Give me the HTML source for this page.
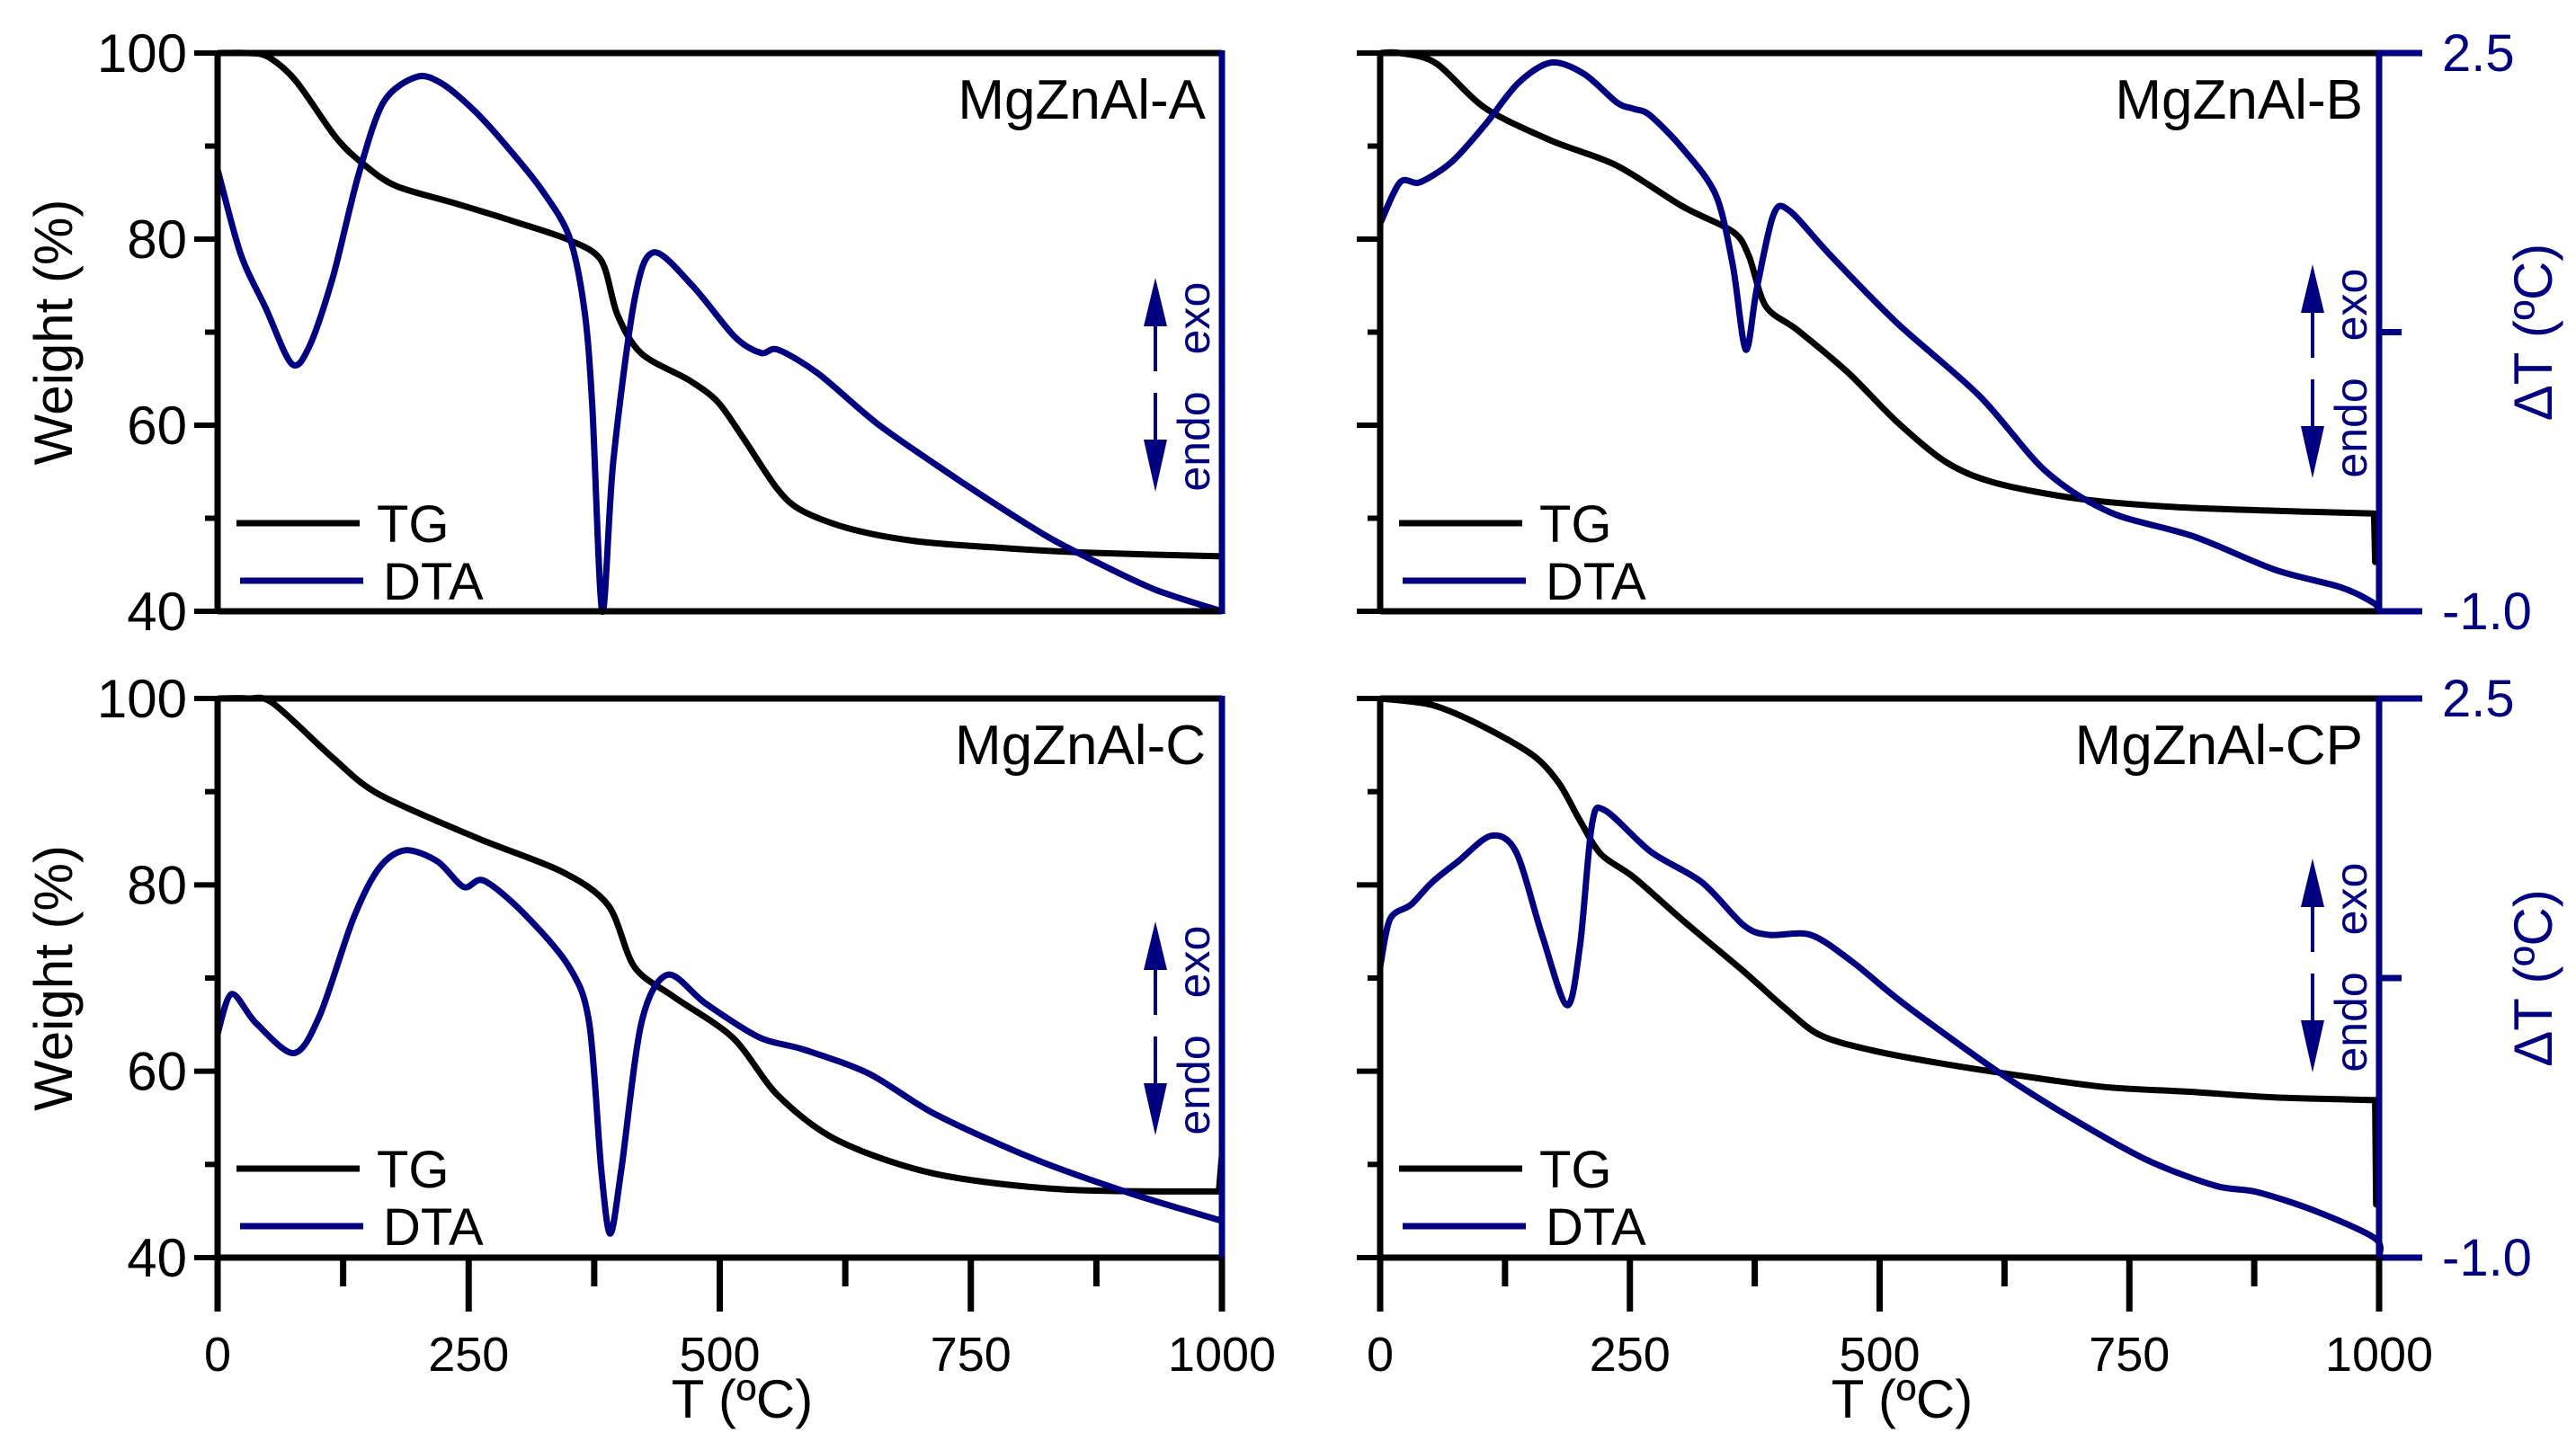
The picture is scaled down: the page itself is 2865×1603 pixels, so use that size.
<!DOCTYPE html>
<html><head><meta charset="utf-8"><style>
html,body{margin:0;padding:0;background:#fff;}
svg{display:block;font-family:"Liberation Sans",sans-serif;}
</style></head><body>
<svg id="chart" width="2865" height="1603" viewBox="0 0 2865 1603" xmlns="http://www.w3.org/2000/svg"></svg>
<script>
// ---- data ----
const panelNames = ["MgZnAl-A","MgZnAl-B","MgZnAl-C","MgZnAl-CP"];
const xTicks = [0,250,500,750,1000];
const wTicks = [40,60,80,100];
const dtTickLabels = ["2.5","-1.0"];
const tgA_T = [0,30,50,78,118,146,178,238,298,350,382,398,422,470,498,523,557,582,632,698,782,865,1000];
const tgA_W = [100,100,99.6,97,90.9,88,85.7,83.8,81.8,79.9,77.7,71.9,67.7,64.8,62.5,58.7,53.2,50.8,48.8,47.5,46.8,46.3,45.9];
const dtaA_T = [0,23,48,74,92,115,140,165,198,223,257,290,323,350,365,373,383,394,415,434,473,515,541,558,598,656,715,765,823,865,932,1000];
const dtaA_V = [1.77,1.24,0.9,0.55,0.67,1.1,1.73,2.19,2.35,2.31,2.13,1.9,1.64,1.35,0.9,0.3,-1.0,-0.06,0.95,1.25,1.04,0.72,0.62,0.64,0.49,0.18,-0.08,-0.29,-0.52,-0.66,-0.86,-1.0];
const tgB_T = [0,20,56,105,171,237,303,353,369,386,418,468,517,567,616,699,797,929,995,996,1000];
const tgB_W = [100,100,98.9,94.1,90.6,87.9,83.5,80.8,78.2,72.8,70.2,65.7,60.4,56,53.8,52.1,51.2,50.7,50.5,45.3,45.3];
const dtaB_T = [0,20,40,72,105,138,171,204,237,254,270,303,336,353,366,377,394,410,451,517,600,666,731,814,896,962,995,1000];
const dtaB_V = [1.43,1.69,1.69,1.82,2.05,2.31,2.44,2.37,2.19,2.15,2.11,1.9,1.61,1.17,0.64,1.02,1.49,1.51,1.23,0.81,0.35,-0.12,-0.38,-0.53,-0.74,-0.85,-0.95,-1.0];
const tgC_T = [0,30,55,115,161,259,343,389,415,454,513,558,617,714,844,997,1000,1000];
const tgC_W = [100,100,99.5,93.6,89.7,85,81.4,77.8,71.2,68,63.6,57.4,52.6,49,47.3,47.1,51,44];
const dtaC_T = [0,14,38,76,102,135,161,187,219,245,265,304,350,370,382,391,402,422,448,486,539,585,649,714,812,910,1000];
const dtaC_V = [0.4,0.65,0.47,0.28,0.52,1.12,1.44,1.55,1.48,1.32,1.36,1.16,0.82,0.47,-0.45,-0.85,-0.45,0.47,0.77,0.59,0.38,0.3,0.15,-0.1,-0.38,-0.6,-0.77];
const tgD_T = [0,52,103,153,179,200,221,254,305,364,406,440,490,558,642,726,810,895,996,997,1000];
const tgD_W = [100,99.3,97,93.9,90.9,86.9,83.3,80.8,76,70.7,66.7,63.9,62.3,60.9,59.5,58.3,57.8,57.2,56.9,45.7,45.7];
const dtaD_T = [0,10,31,52,78,111,136,162,187,200,212,225,271,322,364,389,431,473,524,617,693,768,836,878,937,996,1000];
const dtaD_V = [0.82,1.12,1.21,1.35,1.48,1.64,1.54,1.02,0.58,0.95,1.71,1.8,1.54,1.35,1.08,1.02,1.02,0.85,0.59,0.17,-0.13,-0.39,-0.55,-0.59,-0.71,-0.88,-1.0];

const svg = document.getElementById('chart');
const NS = 'http://www.w3.org/2000/svg';
const BLUE = '#000080';
function mk(tag, attrs, parent){
  const e = document.createElementNS(NS, tag);
  for (const k in attrs) e.setAttribute(k, attrs[k]);
  (parent||svg).appendChild(e);
  return e;
}
function isJump(a,b){ return Math.abs(b[0]-a[0]) < 4; }
function smooth(pts){
  let d = 'M'+pts[0][0].toFixed(1)+','+pts[0][1].toFixed(1);
  for (let i=0;i<pts.length-1;i++){
    const p1=pts[i], p2=pts[i+1];
    if (isJump(p1,p2)){ d+='L'+p2[0].toFixed(1)+','+p2[1].toFixed(1); continue; }
    let p0=pts[Math.max(0,i-1)], p3=pts[Math.min(pts.length-1,i+2)];
    if (i>0 && isJump(p0,p1)) p0=p1;
    if (i+2<pts.length && isJump(p2,p3)) p3=p2;
    const t=0.15;
    const c1=[p1[0]+(p2[0]-p0[0])*t, p1[1]+(p2[1]-p0[1])*t];
    const c2=[p2[0]-(p3[0]-p1[0])*t, p2[1]-(p3[1]-p1[1])*t];
    d+='C'+c1.map(v=>v.toFixed(1))+' '+c2.map(v=>v.toFixed(1))+' '+p2.map(v=>v.toFixed(1));
  }
  return d;
}
const panels = [
  {x0:242,x1:1359,y0:59,y1:680,tg:[tgA_T,tgA_W],dta:[dtaA_T,dtaA_V],left:true,right:false,bottom:false,id:'a'},
  {x0:1535,x1:2646,y0:59,y1:680,tg:[tgB_T,tgB_W],dta:[dtaB_T,dtaB_V],left:false,right:true,bottom:false,id:'b'},
  {x0:242,x1:1359,y0:777,y1:1399,tg:[tgC_T,tgC_W],dta:[dtaC_T,dtaC_V],left:true,right:false,bottom:true,id:'c'},
  {x0:1535,x1:2646,y0:777,y1:1399,tg:[tgD_T,tgD_W],dta:[dtaD_T,dtaD_V],left:false,right:true,bottom:true,id:'cp'}
];
panels.forEach((p,pi)=>{
  const g = mk('g',{});
  
  
  const sx = t => p.x0 + (t/1000)*(p.x1-p.x0);
  const sw = w => p.y1 - (w-40)/60*(p.y1-p.y0);
  const sd = v => p.y1 - (v+1)/3.5*(p.y1-p.y0);
  const tgPts = p.tg[0].map((t,i)=>[sx(t), sw(p.tg[1][i])]);
  const tgPath = mk('path',{d:smooth(tgPts),fill:'none',stroke:'#000','stroke-width':7,'stroke-linejoin':'round'},g);
  
  
  const dPts = p.dta[0].map((t,i)=>[sx(t), sd(p.dta[1][i])]);
  const dPath = mk('path',{d:smooth(dPts),fill:'none',stroke:BLUE,'stroke-width':7,'stroke-linejoin':'round'},g);
  
  
  mk('line',{x1:p.x0,y1:p.y0,x2:p.x1,y2:p.y0,stroke:'#000','stroke-width':7},g);
  mk('line',{x1:p.x0,y1:p.y1,x2:p.x1,y2:p.y1,stroke:'#000','stroke-width':7},g);
  mk('line',{x1:p.x0,y1:p.y0-3,x2:p.x0,y2:p.y1+3,stroke:'#000','stroke-width':7},g);
  const ra = mk('line',{x1:p.x1,y1:p.y0-3,x2:p.x1,y2:p.y1+3,stroke:BLUE,'stroke-width':7},g);
  
  
  for (let w=40; w<=100; w+=10){
    const major = (w%20===0);
    mk('line',{x1:p.x0-(major?26:14),y1:sw(w),x2:p.x0,y2:sw(w),stroke:'#000','stroke-width':6},g);
  }
  if (p.left){
    wTicks.forEach(w=>{
      const t = mk('text',{x:p.x0-34,y:sw(w)+21,'text-anchor':'end','font-size':60,fill:'#000'},g);
      t.textContent = w;
      
      
    });
    const yl = mk('text',{x:0,y:0,transform:'translate(80,'+((p.y0+p.y1)/2)+') rotate(-90)','text-anchor':'middle','font-size':60,fill:'#000'},g);
    yl.textContent = 'Weight (%)';
    
    
  }
  if (p.right){
    [[2.5,48],[0.75,25],[-1,48]].forEach(([v,len])=>{
      mk('line',{x1:p.x1,y1:sd(v),x2:p.x1+len,y2:sd(v),stroke:BLUE,'stroke-width':7},g);
    });
    [2.5,-1].forEach((v,i)=>{
      const t = mk('text',{x:p.x1+70,y:sd(v)+20,'font-size':58,fill:BLUE},g);
      t.textContent = dtTickLabels[i];
      
      
    });
    const rl = mk('text',{x:0,y:0,transform:'translate(2838,'+((p.y0+p.y1)/2)+') rotate(-90)','text-anchor':'middle','font-size':60,fill:BLUE},g);
    rl.textContent = 'ΔT (ºC)';
    
    
  }
  if (p.bottom){
    for (let t=0;t<=1000;t+=125){
      const major = (t%250===0);
      mk('line',{x1:sx(t),y1:p.y1,x2:sx(t),y2:p.y1+(major?60:32),stroke:'#000','stroke-width':7},g);
    }
    xTicks.forEach(t=>{
      const tl = mk('text',{x:sx(t),y:p.y1+126,'text-anchor':'middle','font-size':54,fill:'#000'},g);
      tl.textContent = t;
      
      
    });
    const xl = mk('text',{x:(p.x0+p.x1)/2+25,y:p.y1+178,'text-anchor':'middle','font-size':60,fill:'#000'},g);
    xl.textContent = 'T (ºC)';
    
    
  }
  const tt = mk('text',{x:p.x1-18,y:p.y0+73,'text-anchor':'end','font-size':62,fill:'#000'},g);
  tt.textContent = panelNames[pi];
  
  
  const lx = p.x0+21, lty = p.y0+523, ldy = p.y0+587;
  mk('line',{x1:lx,y1:lty,x2:lx+137,y2:lty,stroke:'#000','stroke-width':7},g);
  const l1 = mk('text',{x:lx+156,y:lty+21,'font-size':58,fill:'#000'},g);
  l1.textContent='TG';
  
  
  mk('line',{x1:lx+4,y1:ldy,x2:lx+141,y2:ldy,stroke:BLUE,'stroke-width':7},g);
  const l2 = mk('text',{x:lx+163,y:ldy+21,'font-size':58,fill:'#000'},g);
  l2.textContent='DTA';
  
  
  const ax = p.x1-74, ay = (pi===0?309:pi===1?294:pi===2?1025:955);
  const ag = mk('g',{},g);
  
  
  mk('polygon',{points:(ax-13)+','+(ay+54)+' '+(ax+13)+','+(ay+54)+' '+ax+','+ay,fill:BLUE},ag);
  mk('line',{x1:ax,y1:ay+50,x2:ax,y2:ay+104,stroke:BLUE,'stroke-width':4},ag);
  mk('line',{x1:ax,y1:ay+128,x2:ax,y2:ay+185,stroke:BLUE,'stroke-width':4},ag);
  mk('polygon',{points:(ax-13)+','+(ay+180)+' '+(ax+13)+','+(ay+180)+' '+ax+','+(ay+238),fill:BLUE},ag);
  const ex = mk('text',{x:0,y:0,transform:'translate('+(ax+60)+','+(ay+45)+') rotate(-90)','text-anchor':'middle','font-size':50,fill:BLUE},ag);
  ex.textContent='exo';
  const en = mk('text',{x:0,y:0,transform:'translate('+(ax+60)+','+(ay+182)+') rotate(-90)','text-anchor':'middle','font-size':50,fill:BLUE},ag);
  en.textContent='endo';
});
</script>
</body></html>
